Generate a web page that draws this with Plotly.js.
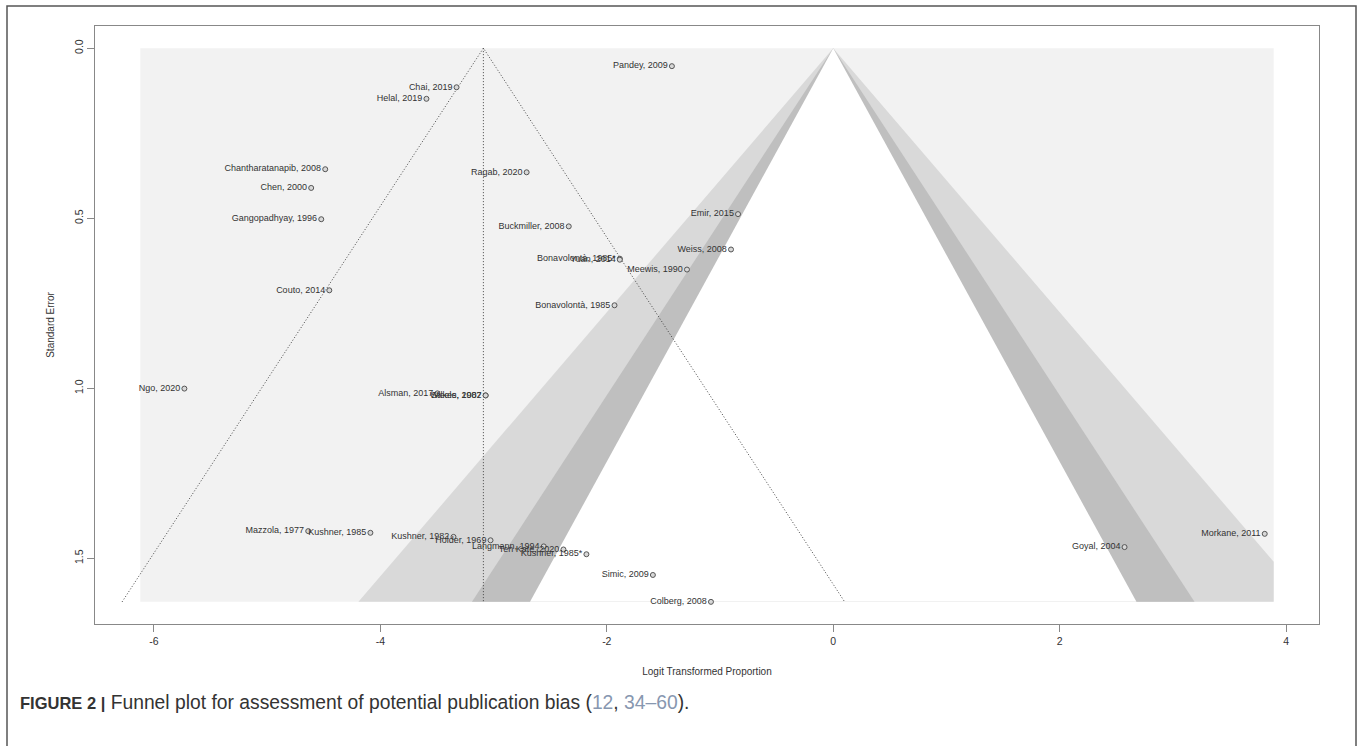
<!DOCTYPE html>
<html><head><meta charset="utf-8">
<script src="https://cdn.plot.ly/plotly-3.0.1.min.js"></script>
<style>html,body{margin:0;padding:0;background:#fff}</style>
</head><body>
<div id="chart" style="width:1360px;height:746px"></div>
<script>
// ---- data ----
const studyLabels = [
  "Pandey, 2009","Chai, 2019","Helal, 2019","Chantharatanapib, 2008","Ragab, 2020",
  "Chen, 2000","Emir, 2015","Gangopadhyay, 1996","Buckmiller, 2008","Weiss, 2008",
  "Bonavolontà, 1985*","Yuan, 2014","Meewis, 1990","Couto, 2014","Bonavolontà, 1985",
  "Ngo, 2020","Alsman, 2017","Wilkes, 2007","Steele, 1982","Mazzola, 1977",
  "Kushner, 1985","Morkane, 2011","Kushner, 1982","Holder, 1969","Langmann, 1994",
  "Goyal, 2004","Ten Kate, 2020","Kushner, 1985*","Simic, 2009","Colberg, 2008"
];
const logitValues = [
  -1.425,-3.327,-3.593,-4.487,-2.708,
  -4.611,-0.841,-4.522,-2.336,-0.903,
  -1.885,-1.885,-1.292,-4.451,-1.932,
  -5.731,-3.496,-3.070,-3.070,-4.637,
  -4.088,3.811,-3.354,-3.027,-2.557,
  2.573,-2.383,-2.180,-1.593,-1.080
];
const standardErrors = [
  0.053,0.115,0.149,0.356,0.365,
  0.411,0.488,0.503,0.524,0.592,
  0.619,0.622,0.651,0.712,0.756,
  1.001,1.015,1.021,1.021,1.420,
  1.425,1.428,1.437,1.447,1.465,
  1.467,1.474,1.488,1.549,1.628
];
const pooledEstimate = -3.09;
const contourRefline = 0;
const contourZ = [2.576, 1.96, 1.645];          // 99%, 95%, 90% contours
const contourColors = ["#d9d9d9", "#bfbfbf", "#ffffff"];
const backColor = "#f2f2f2";
const ciZ = 1.96;
const xLimits = [-6.12, 3.89];
const xTickValues = [-6, -4, -2, 0, 2, 4];
const xTickLabels = ["-6", "-4", "-2", "0", "2", "4"];
const yTickValues = [0, 0.5, 1, 1.5];
const yTickLabels = ["0.0", "0.5", "1.0", "1.5"];

// ---- derived geometry ----
const seMax = Math.max.apply(null, standardErrors);
const xL = xLimits[0], xR = xLimits[1];

function sidePoints(z, sign) {
  const edge = contourRefline + sign * z * seMax;
  const bound = sign > 0 ? xR : xL;
  if (sign * (edge - bound) > 0) {
    const yCross = sign * (bound - contourRefline) / z;
    return [[bound, yCross], [bound, seMax]];
  }
  return [[edge, seMax]];
}

const traces = [];
traces.push({
  x: [xL, xR, xR, xL, xL], y: [0, 0, seMax, seMax, 0],
  mode: "lines", fill: "toself", fillcolor: backColor,
  line: {width: 0}, hoverinfo: "skip", showlegend: false
});
contourZ.forEach(function (z, i) {
  const right = sidePoints(z, 1);
  const left = sidePoints(z, -1).reverse();
  const pts = [[contourRefline, 0]].concat(right, left, [[contourRefline, 0]]);
  traces.push({
    x: pts.map(p => p[0]), y: pts.map(p => p[1]),
    mode: "lines", fill: "toself", fillcolor: contourColors[i],
    line: {width: 0}, hoverinfo: "skip", showlegend: false
  });
});
const dotStyle = {color: "#444", width: 1, dash: "1px,2px"};
traces.push({
  x: [pooledEstimate - ciZ * seMax, pooledEstimate, pooledEstimate + ciZ * seMax],
  y: [seMax, 0, seMax],
  mode: "lines", line: dotStyle,
  hoverinfo: "skip", showlegend: false, cliponaxis: false
});
traces.push({
  x: [pooledEstimate, pooledEstimate], y: [0, seMax],
  mode: "lines", line: dotStyle,
  hoverinfo: "skip", showlegend: false
});
traces.push({
  x: logitValues, y: standardErrors, text: studyLabels,
  mode: "markers+text", textposition: "middle left",
  textfont: {family: "Liberation Sans, Arial, sans-serif", size: 9, color: "#333"},
  marker: {size: 5, color: "#d8d8d8", line: {color: "#555", width: 1}},
  showlegend: false, cliponaxis: false
});

const pad = 0.04;
const xRange = [xL - pad * (xR - xL), xR + pad * (xR - xL)];
const yRange = [seMax * (1 + pad), -pad * seMax];

const plotL = 95, plotR = 1319, plotT = 26, plotB = 624;
const pw = plotR - plotL, ph = plotB - plotT;
function px2paperX(px) { return (px - plotL) / pw; }
function px2paperY(py) { return (plotB - py) / ph; }

const layout = {
  width: 1360, height: 746,
  margin: {l: plotL, r: 1360 - plotR, t: plotT, b: 746 - plotB, pad: 0},
  paper_bgcolor: "#fff", plot_bgcolor: "#fff",
  font: {family: "Liberation Sans, Arial, sans-serif", color: "#333"},
  showlegend: false,
  xaxis: {
    range: xRange, autorange: false,
    tickmode: "array", tickvals: xTickValues, ticktext: xTickLabels,
    ticks: "outside", ticklen: 7, tickcolor: "#888", tickwidth: 1,
    showline: true, linecolor: "#888", linewidth: 1, mirror: true,
    showgrid: false, zeroline: false,
    tickfont: {size: 10.5, color: "#333"},
    title: {text: "Logit Transformed Proportion", font: {size: 10, color: "#333"}, standoff: 22}
  },
  yaxis: {
    range: yRange, autorange: false,
    tickmode: "array", tickvals: yTickValues, ticktext: yTickLabels, tickangle: -90,
    ticks: "outside", ticklen: 7, tickcolor: "#888", tickwidth: 1,
    showline: true, linecolor: "#888", linewidth: 1, mirror: true,
    showgrid: false, zeroline: false,
    tickfont: {size: 10.5, color: "#333"},
    title: {text: "Standard Error", font: {size: 10, color: "#333"}, standoff: 16}
  },
  shapes: [{
    type: "rect", xref: "paper", yref: "paper",
    x0: px2paperX(7), x1: px2paperX(1356), y0: px2paperY(6), y1: px2paperY(770),
    line: {color: "#555", width: 1.5}, fillcolor: "rgba(0,0,0,0)", layer: "above"
  }],
  annotations: [{
    xref: "paper", yref: "paper", x: px2paperX(18), y: px2paperY(702),
    xanchor: "left", yanchor: "middle", showarrow: false,
    font: {family: "Liberation Sans, Arial, sans-serif", size: 19.3, color: "#333"},
    text: "<span style=\"font-size:16.5px\"><b>FIGURE 2 |</b></span> Funnel plot for assessment of potential publication bias (<span style=\"color:#8797b0\">12</span>, <span style=\"color:#8797b0\">34–60</span>)."
  }]
};

Plotly.newPlot("chart", traces, layout, {displayModeBar: false, staticPlot: true});
</script>
</body></html>
